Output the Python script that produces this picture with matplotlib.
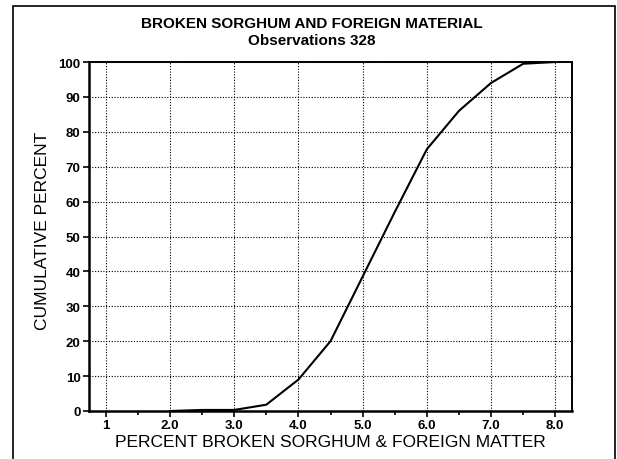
import matplotlib.pyplot as plt
from matplotlib.patches import Rectangle
import numpy as np

plt.rcParams['font.family'] = ['Liberation Sans', 'DejaVu Sans']

pct_broken = [2.0, 2.5, 3.0, 3.5, 4.0, 4.5, 5.0, 5.5, 6.0, 6.5, 7.0, 7.5, 8.0]
cum_percent = [0.0, 0.3, 0.3, 1.8, 9.0, 20.0, 38.5, 57.0, 75.0, 86.0, 94.0, 99.5, 100.0]

x_ticks = [1, 2, 3, 4, 5, 6, 7, 8]
x_tick_labels = ['1', '2.0', '3.0', '4.0', '5.0', '6.0', '7.0', '8.0']
y_ticks = [0, 10, 20, 30, 40, 50, 60, 70, 80, 90, 100]

fig = plt.figure(figsize=(6.17, 4.6), dpi=100)
ax = fig.add_axes([89 / 617, 1 - 412 / 460, (572 - 89) / 617, (412 - 63) / 460])

ax.plot(pct_broken, cum_percent, color='black', linewidth=1.5)

ax.set_xlim(0.74, 8.26)
ax.set_ylim(0, 100)
ax.set_xticks(x_ticks)
ax.set_xticklabels(x_tick_labels)
ax.set_xticks(np.arange(1.5, 8.0, 1.0), minor=True)
ax.set_yticks(y_ticks)

ax.grid(True, which='major', linestyle=(0, (1, 1.5)), color='black', linewidth=0.8)
ax.tick_params(axis='both', which='major', direction='out', length=4, width=1.2,
               labelsize=9.5, pad=2)
ax.tick_params(axis='x', which='minor', direction='out', length=3, width=1.2)
for lbl in ax.get_xticklabels() + ax.get_yticklabels():
    lbl.set_fontweight('bold')

for side in ['left', 'bottom']:
    ax.spines[side].set_linewidth(1.8)
for side in ['top', 'right']:
    ax.spines[side].set_linewidth(1.4)

ax.set_xlabel('PERCENT BROKEN SORGHUM & FOREIGN MATTER', fontsize=12.5, labelpad=2)
ax.set_ylabel('CUMULATIVE PERCENT', fontsize=12.5, labelpad=10)
ax.yaxis.set_label_coords(-0.08, 0.52)

fig.text(0.505, 1 - 24 / 460, 'BROKEN SORGHUM AND FOREIGN MATERIAL',
         ha='center', va='center', fontsize=11, fontweight='bold')
fig.text(0.505, 1 - 41 / 460, 'Observations 328',
         ha='center', va='center', fontsize=11, fontweight='bold')

# outer box around the whole figure
fig.patches.append(Rectangle((13 / 617, -0.02), (615 - 13) / 617, 1.02 - 7 / 460,
                             transform=fig.transFigure, fill=False,
                             edgecolor='black', linewidth=1.2))

fig.savefig('out.png', dpi=100)
